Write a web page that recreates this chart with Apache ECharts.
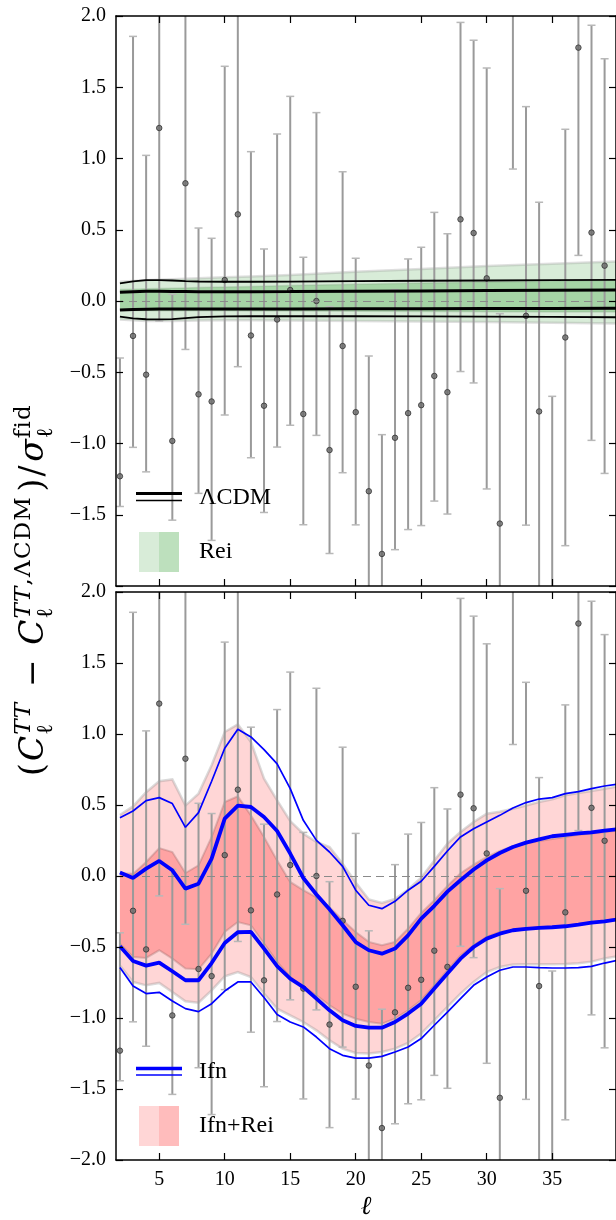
<!DOCTYPE html>
<html><head><meta charset="utf-8">
<script src="https://cdn.jsdelivr.net/npm/echarts@6/dist/echarts.min.js"></script>
<style>html,body{margin:0;padding:0;background:#fff}#c{width:616px;height:1220px}</style>
</head><body><div id="c"></div>
<script>
// ---------- data: observed points (multipole ell = 2..39) ----------
const obsEll = [2,3,4,5,6,7,8,9,10,11,12,13,14,15,16,17,18,19,20,21,22,23,24,25,26,27,28,29,30,31,32,33,34,35,36,37,38,39];
const obsVal = [-1.23,-0.245,-0.517,1.214,-0.982,0.826,-0.655,-0.705,0.147,0.608,-0.242,-0.735,-0.13,0.077,-0.793,0.0,-1.046,-0.316,-0.78,-1.335,-1.775,-0.96,-0.787,-0.731,-0.526,-0.64,0.573,0.477,0.159,-1.562,2.33,-0.104,-0.775,-2.2,-0.256,1.778,0.48,0.248];
const obsHi  = [-0.40,1.857,1.022,2.7,0.047,2.2,0.512,0.44,1.647,2.1,1.048,0.365,1.172,1.436,0.307,1.322,-0.04,0.907,0.30,-0.386,-0.938,0.08,0.295,0.377,0.622,0.472,1.955,1.83,1.635,-0.089,3.9,1.364,0.693,-0.669,1.205,3.4,1.935,1.70];
const obsLo  = [-1.442,-1.027,-1.199,-0.14,-1.538,-0.34,-1.35,-1.68,-0.80,-0.461,-1.10,-1.484,-1.025,-0.872,-1.57,-0.943,-1.772,-1.205,-1.571,-2.2,-2.6,-1.745,-1.604,-1.576,-1.404,-1.495,-0.495,-0.575,-1.319,-3.0,0.926,-1.573,-2.2,-3.6,-1.717,0.32,-0.978,-1.21];

// ---------- top panel: LCDM lines and Rei bands ----------
const topEll  = [2,3,4,5,6,7,8,10,12,15,20,25,30,35,40];
const lcdmHi2 = [0.124,0.138,0.146,0.147,0.144,0.140,0.137,0.135,0.135,0.136,0.139,0.142,0.144,0.146,0.148];
const lcdmHi1 = [0.061,0.065,0.068,0.068,0.067,0.066,0.065,0.065,0.065,0.066,0.068,0.070,0.073,0.075,0.077];
const lcdmLo1 = [-0.063,-0.060,-0.058,-0.057,-0.057,-0.057,-0.057,-0.056,-0.056,-0.056,-0.055,-0.054,-0.053,-0.052,-0.051];
const lcdmLo2 = [-0.110,-0.122,-0.128,-0.129,-0.127,-0.120,-0.113,-0.108,-0.107,-0.107,-0.107,-0.108,-0.110,-0.112,-0.114];
const reiHi2  = [0.135,0.140,0.145,0.150,0.153,0.156,0.159,0.166,0.172,0.182,0.206,0.225,0.245,0.262,0.278];
const reiLo2  = [-0.130,-0.135,-0.140,-0.141,-0.140,-0.138,-0.136,-0.135,-0.135,-0.137,-0.140,-0.144,-0.148,-0.153,-0.158];
const reiHi1  = [0.080,0.083,0.086,0.088,0.090,0.092,0.094,0.098,0.102,0.108,0.118,0.126,0.133,0.139,0.145];
const reiLo1  = [-0.065,-0.066,-0.067,-0.068,-0.068,-0.068,-0.069,-0.069,-0.070,-0.070,-0.072,-0.074,-0.075,-0.077,-0.078];

// ---------- bottom panel: Ifn lines and Ifn+Rei bands (ell = 2..40) ----------
const botEll  = [2,3,4,5,6,7,8,9,10,11,12,13,14,15,16,17,18,19,20,21,22,23,24,25,26,27,28,29,30,31,32,33,34,35,36,37,38,39,40];
const ifnHi2  = [0.41,0.458,0.531,0.552,0.51,0.343,0.446,0.667,0.90,1.033,0.979,0.89,0.79,0.615,0.392,0.251,0.169,0.068,-0.10,-0.206,-0.23,-0.178,-0.10,-0.037,0.068,0.176,0.275,0.333,0.38,0.427,0.479,0.517,0.542,0.552,0.58,0.594,0.615,0.634,0.647];
const ifnHi1  = [0.024,-0.014,0.052,0.106,0.04,-0.089,-0.054,0.122,0.404,0.496,0.486,0.416,0.317,0.158,-0.014,-0.13,-0.235,-0.347,-0.465,-0.523,-0.547,-0.511,-0.418,-0.30,-0.21,-0.11,-0.03,0.046,0.11,0.162,0.204,0.235,0.258,0.28,0.29,0.30,0.307,0.32,0.33];
const ifnLo1  = [-0.495,-0.598,-0.631,-0.61,-0.671,-0.734,-0.734,-0.613,-0.472,-0.396,-0.394,-0.511,-0.634,-0.723,-0.782,-0.864,-0.946,-1.016,-1.056,-1.068,-1.068,-1.028,-0.969,-0.899,-0.793,-0.687,-0.582,-0.5,-0.441,-0.406,-0.382,-0.373,-0.366,-0.361,-0.354,-0.342,-0.328,-0.319,-0.305];
const ifnLo2  = [-0.645,-0.775,-0.828,-0.819,-0.88,-0.934,-0.955,-0.899,-0.81,-0.746,-0.746,-0.856,-0.976,-1.028,-1.063,-1.134,-1.216,-1.263,-1.282,-1.282,-1.27,-1.239,-1.204,-1.145,-1.051,-0.958,-0.864,-0.77,-0.711,-0.664,-0.641,-0.641,-0.645,-0.648,-0.648,-0.645,-0.636,-0.613,-0.594];
const fullHi2 = [0.43,0.49,0.59,0.667,0.68,0.496,0.58,0.78,1.014,1.068,0.944,0.686,0.533,0.387,0.298,0.24,0.204,0.087,-0.045,-0.165,-0.19,-0.162,-0.095,-0.012,0.11,0.228,0.31,0.38,0.439,0.453,0.474,0.496,0.521,0.54,0.568,0.585,0.599,0.615,0.63];
const fullLo2 = [-0.63,-0.746,-0.77,-0.753,-0.817,-0.882,-0.892,-0.805,-0.706,-0.676,-0.711,-0.828,-0.934,-0.981,-1.028,-1.087,-1.157,-1.216,-1.246,-1.25,-1.239,-1.216,-1.176,-1.11,-1.016,-0.922,-0.828,-0.746,-0.676,-0.641,-0.624,-0.622,-0.622,-0.622,-0.62,-0.615,-0.603,-0.58,-0.565];
const fullHi1 = [0.02,0.015,0.099,0.197,0.169,0.021,0.075,0.275,0.521,0.561,0.427,0.275,0.11,-0.042,-0.1,-0.15,-0.22,-0.31,-0.394,-0.464,-0.488,-0.464,-0.37,-0.26,-0.17,-0.07,0.02,0.08,0.134,0.176,0.209,0.228,0.246,0.26,0.275,0.29,0.3,0.31,0.32];
const fullLo1 = [-0.476,-0.570,-0.577,-0.523,-0.582,-0.652,-0.657,-0.547,-0.394,-0.324,-0.347,-0.476,-0.605,-0.711,-0.781,-0.84,-0.911,-0.969,-1.005,-1.028,-1.04,-1.005,-0.946,-0.875,-0.77,-0.664,-0.559,-0.488,-0.429,-0.394,-0.378,-0.37,-0.363,-0.358,-0.35,-0.338,-0.325,-0.315,-0.3];

// ---------- axes ----------
const xTicks = [5,10,15,20,25,30,35];
const XMIN = 1.7, XMAX = 39.87;

// ---------- build chart ----------
const SERIF = '"Liberation Serif","DejaVu Serif",serif';
const MATH = '"DejaVu Serif","Liberation Serif",serif';
const chart = echarts.init(document.getElementById('c'), null, {renderer:'canvas', width:616, height:1220});
const fmt = v => (v < 0 ? '\u2212' : '') + Math.abs(v).toFixed(1);

function xAx(gi, pos, labels) {
  return {type:'value', gridIndex:gi, position:pos, min:XMIN, max:XMAX, z:10,
    axisLine:{show:true, onZero:false, lineStyle:{color:'#000', width:1.5}},
    axisTick:{show:true, inside:true, length:7, customValues:xTicks, lineStyle:{color:'#000', width:1.2}},
    axisLabel:{show:labels, customValues:xTicks, color:'#000', fontFamily:SERIF, fontSize:20, margin:10},
    splitLine:{show:false}};
}
function yAx(gi, pos, labels, hideMin) {
  return {type:'value', gridIndex:gi, position:pos, min:-2, max:2, interval:0.5, z:10,
    axisLine:{show:true, onZero:false, lineStyle:{color:'#000', width:1.5}},
    axisTick:{show:true, inside:true, length:7, lineStyle:{color:'#000', width:1.2}},
    axisLabel:{show:labels, showMinLabel:true, showMaxLabel:true, color:'#000', fontFamily:SERIF, fontSize:20, margin:10,
      formatter: v => (hideMin && v <= -2) ? '' : fmt(v)},
    splitLine:{show:false}};
}

function band(ell, lo, hi, fill, edge, edgeW, gi, z) {
  return {type:'custom', xAxisIndex:gi*2, yAxisIndex:gi*2, z:z, clip:true, silent:true,
    data:[[ell[0], lo[0]]],
    renderItem: (params, api) => {
      const up = ell.map((l, i) => api.coord([l, hi[i]]));
      const dn = ell.map((l, i) => api.coord([l, lo[i]]));
      return {type:'group', children:[
        {type:'polygon', shape:{points: up.concat(dn.slice().reverse())}, style:{fill:fill}},
        {type:'polyline', shape:{points: up}, style:{fill:null, stroke:edge, lineWidth:edgeW}},
        {type:'polyline', shape:{points: dn}, style:{fill:null, stroke:edge, lineWidth:edgeW}}
      ]};
    }};
}
function errBars(gi) {
  return {type:'custom', xAxisIndex:gi*2, yAxisIndex:gi*2, z:3, clip:true, silent:true,
    encode:{x:0, y:[1,2]},
    data: obsEll.map((l, i) => [l, obsLo[i], obsHi[i]]),
    renderItem: (params, api) => {
      const a = api.coord([api.value(0), api.value(2)]);
      const b = api.coord([api.value(0), api.value(1)]);
      return {type:'group', children:[
        {type:'line', shape:{x1:a[0], y1:a[1], x2:b[0], y2:b[1]}, style:{stroke:'#9a9a9a', lineWidth:2}},
        {type:'line', shape:{x1:a[0]-4, y1:a[1], x2:a[0]+4, y2:a[1]}, style:{stroke:'#b8b8b8', lineWidth:1.5}},
        {type:'line', shape:{x1:b[0]-4, y1:b[1], x2:b[0]+4, y2:b[1]}, style:{stroke:'#b8b8b8', lineWidth:1.5}}
      ]};
    }};
}
function points(gi) {
  return {type:'scatter', xAxisIndex:gi*2, yAxisIndex:gi*2, z:4, clip:true, silent:true,
    symbol:'circle', symbolSize:5.5,
    itemStyle:{color:'#6a6a6a', borderColor:'#333', borderWidth:1},
    data: obsEll.map((l, i) => [l, obsVal[i]]),
    markLine:{silent:true, symbol:'none', label:{show:false}, animation:false,
      lineStyle:{type:[8,5], color:'#8a8a8a', width:1.2}, data:[{yAxis:0}]}};
}
function curve(ell, vals, color, width, gi) {
  return {type:'line', xAxisIndex:gi*2, yAxisIndex:gi*2, z:5, clip:true, silent:true,
    showSymbol:false, symbol:'none', smooth:false,
    lineStyle:{color:color, width:width},
    data: ell.map((l, i) => [l, vals[i]])};
}

// ---------- rotated y-axis label with sub/superscripts ----------
function yLabel() {
  const cv = document.createElement('canvas').getContext('2d');
  const M = 33, S = 23, LS = 1.2, TARGET = 372, CENTER = 590, BASE_X = 46;
  const font = (sz, it) => (it ? 'italic ' : '') + sz + 'px ' + MATH;
  const w = (t, sz, it) => { cv.font = font(sz, it); return cv.measureText(t).width; };
  const mk = () => ({parts:[], w:0});
  const addMain = (tk, t, it) => { tk.parts.push({t:t, sz:M, it:it, dx:tk.w, base:0}); tk.w += w(t, M, it); };
  const addScripts = (tk, supParts, sub) => {
    let sx = tk.w + 1;
    supParts.forEach(p => { for (const ch of p[0]) { tk.parts.push({t:ch, sz:S, it:p[1], dx:sx, base:-0.42*M}); sx += w(ch, S, p[1]) + LS; } });
    tk.parts.push({t:sub, sz:S, it:false, dx:tk.w + 1, base:0.24*M});
    tk.w = Math.max(sx, tk.w + 1 + w(sub, S, false));
  };
  const t1 = mk(); addMain(t1, '(', false);
  const t2 = mk(); addMain(t2, 'C', true); addScripts(t2, [['TT', true]], '\u2113');
  const t3 = mk(); addMain(t3, '\u2212', false);
  const t4 = mk(); addMain(t4, 'C', true); addScripts(t4, [['TT', true], [',\u039BCDM', false]], '\u2113');
  const t5 = mk(); addMain(t5, ')', false);
  const t6 = mk(); addMain(t6, '/', false);
  const t7 = mk(); addMain(t7, '\u03C3', true); addScripts(t7, [['fid', false]], '\u2113');
  const toks = [t1, t2, t3, t4, t5, t6, t7];
  const gw = [0.3, 2, 2, 0.6, 0.3, 0.5];
  const natural = toks.reduce((s, t) => s + t.w, 0);
  const unit = Math.max(0, TARGET - natural) / gw.reduce((s, g) => s + g, 0);
  const items = [];
  let x = 0;
  toks.forEach((tk, k) => {
    tk.parts.forEach(p => items.push({type:'text', x:x + p.dx, y:p.base - 0.34*p.sz,
      style:{text:p.t, font:font(p.sz, p.it), fill:'#000', textAlign:'left', textVerticalAlign:'middle', align:'left', verticalAlign:'middle'}}));
    x += tk.w + (k < gw.length ? gw[k]*unit : 0);
  });
  return {type:'group', x:BASE_X, y:CENTER + x/2, rotation:Math.PI/2, children:items, z:100};
}

const legendFont = '24px ' + SERIF;
const graphic = [
  yLabel(),
  {type:'text', x:366, y:1207, z:100, style:{text:'\u2113', font:'italic 26px ' + SERIF, fill:'#000', textAlign:'center', textVerticalAlign:'middle', align:'center', verticalAlign:'middle'}},
  // top legend
  {type:'line', z:100, shape:{x1:136, y1:493.5, x2:182, y2:493.5}, style:{stroke:'#000', lineWidth:3}},
  {type:'line', z:100, shape:{x1:136, y1:500.5, x2:182, y2:500.5}, style:{stroke:'#000', lineWidth:1.5}},
  {type:'text', z:100, x:199, y:498, style:{text:'\u039BCDM', font:legendFont, fill:'#000', verticalAlign:'middle', textVerticalAlign:'middle'}},
  {type:'rect', z:100, shape:{x:139, y:532, width:20, height:40}, style:{fill:'#d8ecd8'}},
  {type:'rect', z:100, shape:{x:159, y:532, width:20, height:40}, style:{fill:'#bde0bd'}},
  {type:'text', z:100, x:199, y:552, style:{text:'Rei', font:legendFont, fill:'#000', verticalAlign:'middle', textVerticalAlign:'middle'}},
  // bottom legend
  {type:'line', z:100, shape:{x1:136, y1:1068.5, x2:182, y2:1068.5}, style:{stroke:'#0000ff', lineWidth:3.5}},
  {type:'line', z:100, shape:{x1:136, y1:1075, x2:182, y2:1075}, style:{stroke:'#0000ff', lineWidth:1.5}},
  {type:'text', z:100, x:199, y:1072, style:{text:'Ifn', font:legendFont, fill:'#000', verticalAlign:'middle', textVerticalAlign:'middle'}},
  {type:'rect', z:100, shape:{x:139, y:1106, width:20, height:40}, style:{fill:'#ffd6d6'}},
  {type:'rect', z:100, shape:{x:159, y:1106, width:20, height:40}, style:{fill:'#ffbcbc'}},
  {type:'text', z:100, x:199, y:1126, style:{text:'Ifn+Rei', font:legendFont, fill:'#000', verticalAlign:'middle', textVerticalAlign:'middle'}}
];

const option = {
  animation:false,
  backgroundColor:'#fff',
  grid:[{left:116, top:16, width:500, height:570}, {left:116, top:592, width:500, height:568}],
  xAxis:[xAx(0,'bottom',false), xAx(0,'top',false), xAx(1,'bottom',true), xAx(1,'top',false)],
  yAxis:[yAx(0,'left',true,true), yAx(0,'right',false,false), yAx(1,'left',true,false), yAx(1,'right',false,false)],
  series:[
    band(topEll, reiLo2, reiHi2, '#d8ecd8', 'rgba(150,150,150,0.3)', 2.5, 0, 1),
    band(topEll, reiLo1, reiHi1, '#a5d4a5', 'rgba(120,150,120,0.25)', 1.5, 0, 1),
    errBars(0), points(0),
    curve(topEll, lcdmHi2, '#000', 1.8, 0),
    curve(topEll, lcdmHi1, '#000', 3, 0),
    curve(topEll, lcdmLo1, '#000', 3, 0),
    curve(topEll, lcdmLo2, '#000', 1.8, 0),
    band(botEll, fullLo2, fullHi2, '#ffd6d6', 'rgba(150,150,150,0.35)', 2.5, 1, 1),
    band(botEll, fullLo1, fullHi1, '#ffa3a3', 'rgba(140,100,100,0.3)', 2, 1, 1),
    errBars(1), points(1),
    curve(botEll, ifnHi2, '#0000ff', 1.7, 1),
    curve(botEll, ifnHi1, '#0000ff', 3.8, 1),
    curve(botEll, ifnLo1, '#0000ff', 3.8, 1),
    curve(botEll, ifnLo2, '#0000ff', 1.7, 1)
  ],
  graphic: graphic
};
chart.setOption(option);
</script>
</body></html>
